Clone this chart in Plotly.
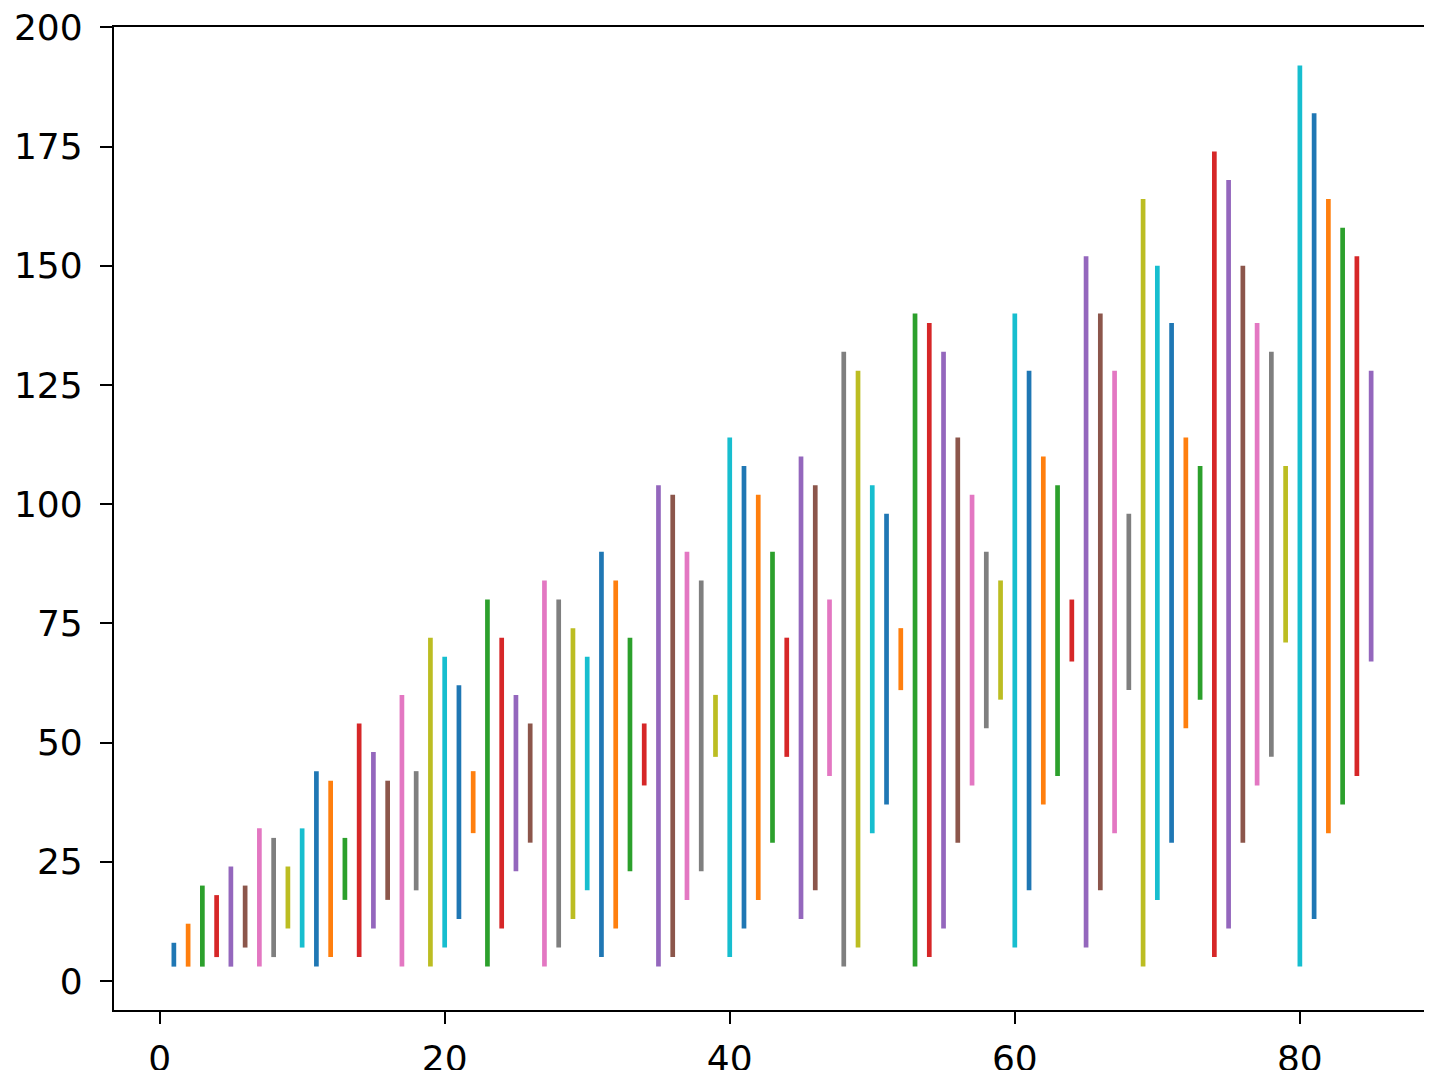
import plotly.graph_objects as go

x_vals = list(range(1, 86))
y_min = [3, 3, 3, 5, 3, 7, 3, 5, 11, 7,
         3, 5, 17, 5, 11, 17, 3, 19, 3, 7,
         13, 31, 3, 11, 23, 29, 3, 7, 13, 19,
         5, 11, 23, 41, 3, 5, 17, 23, 47, 5,
         11, 17, 29, 47, 13, 19, 43, 3, 7, 31,
         37, 61, 3, 5, 11, 29, 41, 53, 59, 7,
         19, 37, 43, 67, 7, 19, 31, 61, 3, 17,
         29, 53, 59, 5, 11, 29, 41, 47, 71, 3,
         13, 31, 37, 43, 67]
y_max = [8, 12, 20, 18, 24, 20, 32, 30, 24, 32,
         44, 42, 30, 54, 48, 42, 60, 44, 72, 68,
         62, 44, 80, 72, 60, 54, 84, 80, 74, 68,
         90, 84, 72, 54, 104, 102, 90, 84, 60, 114,
         108, 102, 90, 72, 110, 104, 80, 132, 128, 104,
         98, 74, 140, 138, 132, 114, 102, 90, 84, 140,
         128, 110, 104, 80, 152, 140, 128, 98, 164, 150,
         138, 114, 108, 174, 168, 150, 138, 132, 108, 192,
         182, 164, 158, 152, 128]

colors = ["#1f77b4", "#ff7f0e", "#2ca02c", "#d62728", "#9467bd",
          "#8c564b", "#e377c2", "#7f7f7f", "#bcbd22", "#17becf"]

fig = go.Figure()
for ci, col in enumerate(colors):
    xs, ys = [], []
    for i in range(ci, len(x_vals), len(colors)):
        xs += [x_vals[i], x_vals[i], None]
        ys += [y_min[i], y_max[i], None]
    fig.add_trace(go.Scatter(x=xs, y=ys, mode="lines",
                             line=dict(color=col, width=4.7),
                             hoverinfo="skip", showlegend=False))

axis_common = dict(showline=True, linecolor="black", linewidth=2.2, mirror=True,
                   ticks="outside", ticklen=12, tickwidth=2.2, tickcolor="black",
                   showgrid=False, zeroline=False, automargin=False,
                   ticklabeloverflow="allow",
                   tickfont=dict(family="DejaVu Sans", size=36, color="black"))

fig.update_xaxes(range=[-3.2, 89.2], tickvals=[0, 20, 40, 60, 80],
                 ticklabelstandoff=4, **axis_common)
fig.update_yaxes(range=[-6.1, 200.1], tickvals=[0, 25, 50, 75, 100, 125, 150, 175, 200],
                 ticklabelstandoff=10, **axis_common)

# the page body adds an 8px margin, so the figure is sized/offset to compensate
fig.update_layout(width=1424, height=1062,
                  margin=dict(l=106, r=1, t=19, b=60, autoexpand=False),
                  plot_bgcolor="white", paper_bgcolor="white")

fig.write_html("out.html")
